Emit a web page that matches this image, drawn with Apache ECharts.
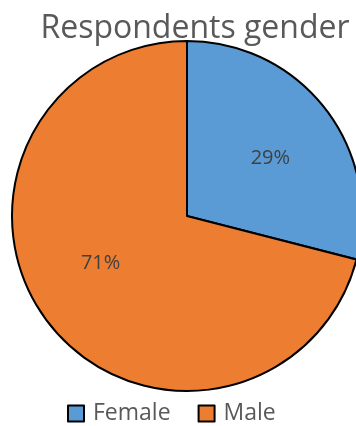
<!DOCTYPE html>
<html><head><meta charset="utf-8">
<script src="https://cdn.jsdelivr.net/npm/echarts@6/dist/echarts.min.js"></script>
<style>html,body{margin:0;padding:0;background:#fff}#c{width:356px;height:426px}</style>
</head><body><div id="c"></div>
<script>
const categories = ['Female', 'Male'];
const values = [29, 71];
const colors = ['#5B9BD5', '#ED7D31'];
const labelOffsets = [[0, 7], [-3, -17]];
const chart = echarts.init(document.getElementById('c'));
chart.setOption({
  animation: false,
  title: {text: 'Respondents gender', left: 195, top: 13, textAlign: 'center', padding: 0,
    textStyle: {fontFamily: 'Open Sans', fontSize: 32, fontWeight: 'normal', color: '#595959'}},
  legend: {top: 402, left: 67, padding: 0, icon: 'rect', itemWidth: 16, itemHeight: 16, itemGap: 27,
    data: categories,
    textStyle: {fontFamily: 'Open Sans', fontSize: 23, color: '#595959', padding: [0, 0, 0, 4]}},
  series: [{
    type: 'pie', center: [187, 216], radius: [0, 175], startAngle: 90, clockwise: true,
    itemStyle: {borderColor: '#000', borderWidth: 2},
    label: {show: false},
    labelLine: {show: false},
    emphasis: {disabled: true},
    data: categories.map((c, i) => ({name: c, value: values[i], itemStyle: {color: colors[i]}}))
  }, {
    type: 'pie', center: [187, 216], radius: [30, 175], startAngle: 90, clockwise: true,
    silent: true, legendHoverLink: false,
    itemStyle: {color: 'rgba(0,0,0,0)', borderWidth: 0},
    label: {position: 'inside', formatter: '{d}%', fontFamily: 'Open Sans', fontSize: 20, color: '#404040'},
    labelLine: {show: false},
    emphasis: {disabled: true},
    data: categories.map((c, i) => ({name: c, value: values[i], label: {offset: labelOffsets[i]}}))
  }]
});
</script></body></html>
